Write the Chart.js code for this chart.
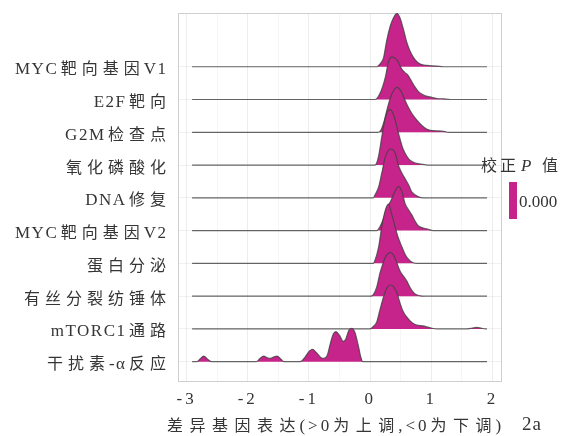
<!DOCTYPE html>
<html>
<head>
<meta charset="utf-8">
<script src="https://cdn.jsdelivr.net/npm/chart.js@4/dist/chart.umd.min.js"></script>
<style>
  html, body { margin: 0; padding: 0; background: #ffffff; }
  #wrap { width: 569px; height: 436px; position: relative; }
</style>
</head>
<body>
<div id="wrap"><canvas id="ridges"></canvas></div>
<script>
// Gene sets, listed from the top ridge down
const categories = ['MYC靶向基因V1', 'E2F靶向', 'G2M检查点', '氧化磷酸化', 'DNA修复',
                    'MYC靶向基因V2', '蛋白分泌', '有丝分裂纺锤体', 'mTORC1通路', '干扰素-α反应'];

// Density of log fold change for each gene set: [x, density]
const densMycV1 = [[-2.91,0],[0.11,0],[0.16,0.08],[0.22,0.28],[0.27,0.79],[0.33,1.25],[0.38,1.49],[0.44,1.63],[0.49,1.48],[0.55,1.10],[0.60,0.74],[0.65,0.49],[0.71,0.28],[0.76,0.16],[0.82,0.08],[0.93,0.04],[1.09,0.02],[1.20,0],[1.91,0]];
const densE2f = [[-2.91,0],[0.08,0],[0.16,0.18],[0.25,0.69],[0.30,1.15],[0.36,1.30],[0.44,1.20],[0.52,0.92],[0.57,0.82],[0.62,0.74],[0.67,0.58],[0.72,0.42],[0.79,0.24],[0.90,0.11],[0.98,0.08],[1.09,0.03],[1.20,0.02],[1.31,0],[1.91,0]];
const densG2m = [[-2.91,0],[0.13,0],[0.18,0.08],[0.23,0.35],[0.28,0.72],[0.33,1.05],[0.38,1.26],[0.44,1.37],[0.50,1.27],[0.56,1.02],[0.62,0.78],[0.68,0.58],[0.76,0.38],[0.85,0.20],[0.93,0.09],[1.04,0.05],[1.20,0.03],[1.28,0],[1.91,0]];
const densOxphos = [[-2.91,0],[0.08,0],[0.13,0.20],[0.19,0.85],[0.25,1.45],[0.32,1.70],[0.38,1.55],[0.44,1.15],[0.49,0.78],[0.54,0.48],[0.60,0.27],[0.65,0.15],[0.76,0.05],[0.90,0.01],[0.95,0],[1.91,0]];
const densDnaRepair = [[-2.91,0],[0.05,0],[0.08,0.09],[0.14,0.34],[0.19,0.75],[0.25,1.25],[0.33,1.49],[0.41,1.36],[0.46,1.00],[0.52,0.75],[0.57,0.59],[0.63,0.39],[0.68,0.18],[0.74,0.09],[0.79,0.03],[0.87,0],[1.91,0]];
const densMycV2 = [[-2.91,0],[0.11,0],[0.16,0.12],[0.22,0.38],[0.27,0.68],[0.33,0.88],[0.38,1.09],[0.46,1.34],[0.52,1.19],[0.57,0.83],[0.63,0.63],[0.68,0.48],[0.74,0.27],[0.79,0.14],[0.87,0.08],[0.95,0.04],[1.03,0],[1.91,0]];
const densSecretion = [[-2.91,0],[0.05,0],[0.08,0.10],[0.14,0.51],[0.19,1.12],[0.25,1.63],[0.30,1.81],[0.35,1.52],[0.41,1.10],[0.46,0.78],[0.52,0.50],[0.57,0.28],[0.63,0.12],[0.68,0.04],[0.75,0],[1.91,0]];
const densSpindle = [[-2.91,0],[0.00,0],[0.05,0.04],[0.11,0.29],[0.16,0.70],[0.22,1.05],[0.27,1.26],[0.33,1.33],[0.38,1.26],[0.44,1.00],[0.49,0.76],[0.54,0.62],[0.60,0.46],[0.65,0.27],[0.71,0.11],[0.76,0.04],[0.82,0.01],[0.90,0],[1.91,0]];
const densMtorc1 = [[-2.91,0],[0.00,0],[0.05,0.07],[0.11,0.22],[0.16,0.58],[0.22,0.98],[0.27,1.24],[0.33,1.34],[0.38,1.29],[0.44,1.09],[0.49,0.78],[0.54,0.53],[0.60,0.36],[0.68,0.20],[0.76,0.12],[0.87,0.09],[0.93,0.06],[1.01,0.02],[1.09,0],[1.55,0],[1.66,0.02],[1.74,0.045],[1.82,0.02],[1.88,0],[1.91,0]];
const densIfnAlpha = [[-2.91,0],[-2.83,0],[-2.78,0.08],[-2.72,0.17],[-2.66,0.08],[-2.59,0],[-1.86,0],[-1.80,0.10],[-1.74,0.17],[-1.68,0.12],[-1.63,0.10],[-1.57,0.15],[-1.52,0.17],[-1.46,0.08],[-1.41,0],[-1.14,0],[-1.06,0.15],[-0.99,0.33],[-0.94,0.38],[-0.88,0.28],[-0.80,0.12],[-0.76,0.10],[-0.70,0.20],[-0.65,0.56],[-0.60,0.85],[-0.56,0.92],[-0.50,0.80],[-0.44,0.62],[-0.40,0.68],[-0.35,0.95],[-0.30,1.02],[-0.25,0.90],[-0.19,0.46],[-0.15,0.12],[-0.12,0],[1.91,0]];

const densities = [densMycV1, densE2f, densG2m, densOxphos, densDnaRepair,
                   densMycV2, densSecretion, densSpindle, densMtorc1, densIfnAlpha];

// Adjusted p value shown on the colour bar
const adjPValues = [0.000];

// Axis ticks
const xTickValues = [-3, -2, -1, 0, 1, 2];
const xTickLabels = ['-3', '-2', '-1', '0', '1', '2'];
const xTitle = '差异基因表达(>0为上调,<0为下调)';
const legendTitleParts = ['校正', 'P', '值'];
const panelTag = '2a';

const FILL = '#C6248B';
const TEXT = '#353535';
const FAMILY = '"Liberation Serif", "Noto Sans CJK SC", serif';

// Typesetting for mixed Chinese / Latin labels
const labelStyle = { latinFont: '17px "Liberation Serif"', cjkFont: '16px "Noto Sans CJK SC"',
                     latinGap: 1.5, cjkGap: 5, runGap: 4 };
const titleStyle = { latinFont: '17px "Liberation Serif"', cjkFont: '16px "Noto Sans CJK SC"',
                     latinGap: 3, cjkGap: 6.5, runGap: 4 };

const n = categories.length;
const datasets = categories.map((name, k) => {
  const base = n - 1 - k;
  return {
    label: name,
    data: densities[k].map(([x, d]) => ({ x: x, y: base + d })),
    fill: { value: base },
    backgroundColor: FILL,
    borderColor: 'rgba(65,65,65,0.8)',
    borderWidth: 1.2,
    pointRadius: 0,
    cubicInterpolationMode: 'monotone',
    order: base   // lower ridges are painted over the ones above
  };
});

// Split mixed text into runs so each script gets its own font and tracking
function textRuns(text) {
  const runs = [];
  for (const ch of text) {
    const cjk = /[\u3000-\u9fff\uff00-\uffef]/.test(ch);
    const last = runs[runs.length - 1];
    if (last && last.cjk === cjk) last.text += ch;
    else runs.push({ text: ch, cjk });
  }
  return runs;
}

// Draws on a shared alphabetic baseline
function drawTracked(ctx, text, x, y, align, st) {
  const runs = textRuns(text);
  const apply = (r) => {
    ctx.font = r.cjk ? st.cjkFont : st.latinFont;
    ctx.letterSpacing = (r.cjk ? st.cjkGap : st.latinGap) + 'px';
    return r.cjk ? st.cjkGap : st.latinGap;
  };
  let total = 0;
  runs.forEach((r, i) => {
    const gap = apply(r);
    r.w = ctx.measureText(r.text).width - gap + (i === runs.length - 1 ? 0 : st.runGap);
    total += r.w;
  });
  let cx = align === 'right' ? x - total : align === 'center' ? x - total / 2 : x;
  ctx.textAlign = 'left';
  ctx.textBaseline = 'alphabetic';
  runs.forEach((r) => {
    apply(r);
    ctx.fillText(r.text, cx, y);
    cx += r.w;
  });
  ctx.letterSpacing = '0px';
}

const framePlugin = {
  id: 'panelFrame',
  beforeDraw(chart) { chart.ctx.letterSpacing = '3px'; },
  beforeDatasetsDraw(chart) {
    const { ctx, chartArea: a } = chart;
    ctx.save();
    ctx.strokeStyle = '#cfcfcf';
    ctx.lineWidth = 1;
    ctx.strokeRect(a.left + 0.5, a.top + 0.5, a.right - a.left - 1, a.bottom - a.top - 1);
    ctx.restore();
  }
};

const labelPlugin = {
  id: 'trackedLabels',
  afterDraw(chart) {
    const { ctx } = chart;
    const ys = chart.scales.y;
    const a = chart.chartArea;
    ctx.save();
    ctx.fillStyle = TEXT;
    categories.forEach((name, k) => {
      const py = ys.getPixelForValue(n - 1 - k);
      drawTracked(ctx, name, a.left - 12, py + 7.5, 'right', labelStyle);
    });
    // x-axis title
    drawTracked(ctx, xTitle, 334, 431, 'center', titleStyle);
    ctx.restore();
  }
};

const legendPlugin = {
  id: 'pLegend',
  afterDraw(chart) {
    const { ctx } = chart;
    ctx.save();
    ctx.fillStyle = TEXT;
    ctx.textBaseline = 'alphabetic';
    ctx.textAlign = 'left';
    ctx.letterSpacing = '3px';
    ctx.font = '16px "Noto Sans CJK SC"';
    ctx.fillText(legendTitleParts[0], 481, 171);
    ctx.letterSpacing = '0px';
    ctx.font = 'italic 17px "Liberation Serif"';
    ctx.fillText(legendTitleParts[1], 521, 171);
    ctx.font = '16px "Noto Sans CJK SC"';
    ctx.fillText(legendTitleParts[2], 542, 171);
    // colour bar
    ctx.fillStyle = FILL;
    ctx.fillRect(509, 182, 8, 37);
    ctx.fillStyle = TEXT;
    ctx.font = '17px "Liberation Serif"';
    ctx.fillText(adjPValues[0].toFixed(3), 519, 206.5);
    // panel tag
    ctx.letterSpacing = '1px';
    ctx.font = '19px "Liberation Serif"';
    ctx.fillText(panelTag, 522, 429.5);
    ctx.restore();
  }
};

new Chart(document.getElementById('ridges'), {
  type: 'line',
  data: { datasets },
  plugins: [framePlugin, labelPlugin, legendPlugin],
  options: {
    responsive: true,
    maintainAspectRatio: false,
    animation: false,
    events: [],
    layout: { padding: { top: 13, right: 67, left: 0, bottom: 0 } },
    plugins: { legend: { display: false }, tooltip: { enabled: false } },
    scales: {
      x: {
        type: 'linear',
        min: -3.14,
        max: 2.155,
        afterFit(scale) {
          scale.height = 54;
          scale.paddingLeft = 0;
          scale.paddingRight = 0;
        },
        afterBuildTicks(scale) {
          const t = [];
          for (let v = -3; v <= 2.001; v += 0.5) t.push({ value: Math.round(v * 10) / 10 });
          scale.ticks = t;
        },
        border: { display: false },
        grid: {
          drawTicks: false,
          color: (c) => Number.isInteger(c.tick.value) ? 'rgba(0,0,0,0.07)' : 'rgba(0,0,0,0.035)'
        },
        ticks: {
          autoSkip: false,
          maxRotation: 0,
          padding: 7,
          color: TEXT,
          font: { family: FAMILY, size: 17 },
          callback: (v) => {
            const i = xTickValues.indexOf(v);
            return i >= 0 ? xTickLabels[i] : '';
          }
        }
      },
      y: {
        type: 'linear',
        min: -0.62,
        max: 10.64,
        afterFit(scale) {
          scale.width = 178;
          scale.paddingTop = 0;
          scale.paddingBottom = 0;
        },
        afterBuildTicks(scale) {
          scale.ticks = categories.map((_, k) => ({ value: n - 1 - k }));
        },
        border: { display: false },
        grid: { drawTicks: false, color: 'rgba(0,0,0,0.06)' },
        ticks: { display: false }
      }
    }
  }
});
</script>
</body>
</html>
